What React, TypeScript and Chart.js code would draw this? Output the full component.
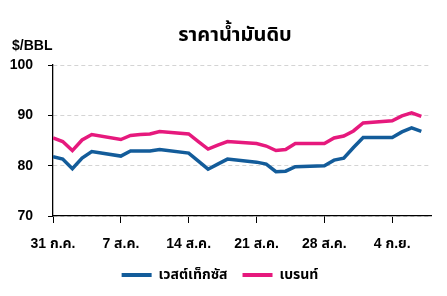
import React, { useEffect, useRef } from "react";
import { Chart, registerables } from "chart.js";

Chart.register(...registerables);

const chartTitle = "ราคาน้ำมันดิบ";
const unitLabel = "$/BBL";
// day offsets from 31 Jul (trading days only)
const days = [0, 1, 2, 3, 4, 7, 8, 9, 10, 11, 14, 15, 16, 17, 18, 21, 22, 23, 24, 25, 28, 29, 30, 31, 32, 35, 36, 37, 38];
const wti = [81.8, 81.3, 79.4, 81.5, 82.8, 81.9, 82.9, 82.9, 82.9, 83.2, 82.5, 80.9, 79.3, 80.3, 81.3, 80.7, 80.3, 78.8, 78.9, 79.8, 80.0, 81.1, 81.5, 83.6, 85.6, 85.6, 86.7, 87.5, 86.8];
const brent = [85.5, 84.8, 83.0, 85.1, 86.2, 85.2, 86.0, 86.2, 86.3, 86.8, 86.3, 84.8, 83.3, 84.1, 84.8, 84.4, 83.9, 83.0, 83.2, 84.4, 84.4, 85.5, 85.9, 86.9, 88.5, 88.9, 89.9, 90.5, 89.8];
const seriesNames = ["เวสต์เท็กซัส", "เบรนท์"];
const tickDays = [0, 7, 14, 21, 28, 35];
const tickLabels = ["31 ก.ค.", "7 ส.ค.", "14 ส.ค.", "21 ส.ค.", "28 ส.ค.", "4 ก.ย."];

const FONT = "'Liberation Sans', 'Noto Sans Thai', Arial, sans-serif";
const BLUE = "#135c9a";
const PINK = "#e6197d";

export default function App() {
  const ref = useRef<HTMLCanvasElement | null>(null);

  useEffect(() => {
    document.body.style.margin = "0";
    const canvas = ref.current;
    if (!canvas) return;

    const textPlugin = {
      id: "texts",
      afterDraw(chart: any) {
        const ctx = chart.ctx;
        ctx.save();
        ctx.fillStyle = "#000";
        ctx.textBaseline = "middle";
        ctx.textAlign = "center";
        ctx.font = `bold 20px ${FONT}`;
        ctx.fillText(chartTitle, 235, 35);
        ctx.textAlign = "left";
        ctx.font = `bold 14px ${FONT}`;
        ctx.fillText(unitLabel, 12, 46);
        ctx.restore();
      },
    };

    const mk = (vals: number[]) => days.map((d, i) => ({ x: d, y: vals[i] }));

    const chart = new Chart(canvas, {
      type: "line",
      data: {
        datasets: [
          { label: seriesNames[0], data: mk(wti), borderColor: BLUE, backgroundColor: BLUE, borderWidth: 3.5, pointRadius: 0, tension: 0 },
          { label: seriesNames[1], data: mk(brent), borderColor: PINK, backgroundColor: PINK, borderWidth: 3.5, pointRadius: 0, tension: 0 },
        ],
      },
      plugins: [textPlugin],
      options: {
        animation: false,
        responsive: false,
        layout: { padding: { top: 65, left: 9, right: 16, bottom: 4 } },
        plugins: {
          title: { display: false },
          tooltip: { enabled: false },
          legend: {
            position: "bottom",
            labels: {
              boxWidth: 30,
              boxHeight: 4,
              padding: 15,
              color: "#000",
              font: { family: FONT, size: 14, weight: "bold" },
              generateLabels: (c: any) =>
                (Chart.defaults.plugins.legend.labels.generateLabels as any)(c).map((l: any) => ({ ...l, lineWidth: 0, fillStyle: l.strokeStyle })),
            },
          },
        },
        scales: {
          x: {
            type: "linear",
            min: 0,
            max: 39,
            afterBuildTicks: (scale: any) => {
              scale.ticks = tickDays.map((v) => ({ value: v }));
            },
            afterFit: (scale: any) => {
              scale.paddingLeft = 0;
              scale.paddingRight = 0;
              scale.height = 37;
            },
            grid: { drawOnChartArea: false, drawTicks: true, tickLength: 7, tickColor: "#000", color: "#000" },
            border: { color: "#000", width: 1.3 },
            ticks: {
              autoSkip: false,
              maxRotation: 0,
              padding: 13,
              color: "#000",
              font: { family: FONT, size: 14, weight: "bold" },
              callback: (v: any) => {
                const i = tickDays.indexOf(Number(v));
                return i >= 0 ? tickLabels[i] : "";
              },
            },
          },
          y: {
            min: 70,
            max: 100,
            afterFit: (scale: any) => {
              scale.width = 44;
            },
            grid: { color: "#d4d4d4", lineWidth: 1, tickColor: "#000", tickLength: 5 },
            border: { color: "#000", width: 1.3, dash: [4, 3] },
            ticks: {
              stepSize: 10,
              padding: 15,
              color: "#000",
              font: { family: FONT, size: 14, weight: "bold" },
            },
          },
        },
      },
    } as any);

    return () => chart.destroy();
  }, []);

  return <canvas ref={ref} width={447} height={296} style={{ display: "block" }} />;
}
